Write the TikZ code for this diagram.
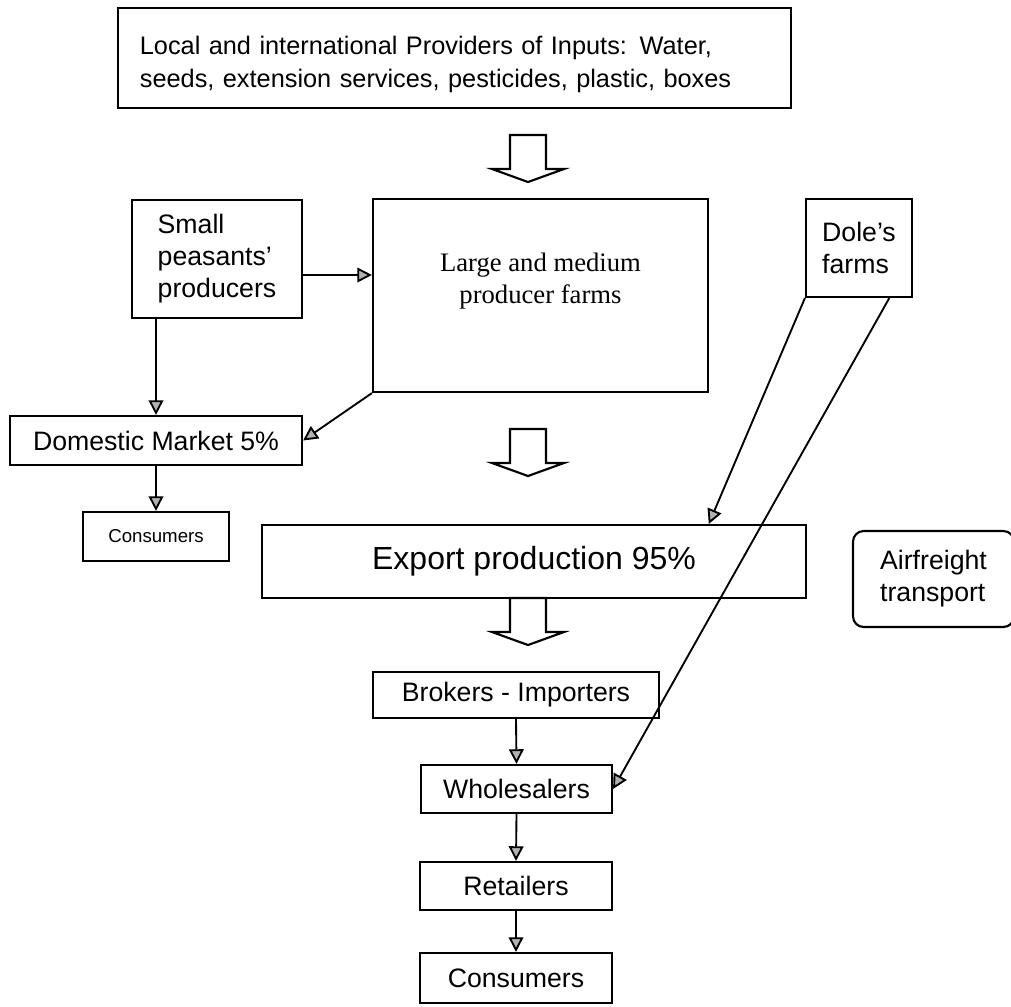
\documentclass[tikz,border=0pt]{standalone}
\usepackage{fontspec}
\setmainfont{Liberation Sans}
\newfontfamily\serifboxfont{Liberation Serif}
\usetikzlibrary{arrows.meta,calc}

\begin{document}
\begin{tikzpicture}[x=0.75pt,y=0.75pt,yscale=-1,xscale=1,
  box/.style={draw, line width=1.6pt, inner sep=0pt, align=center, font=\fontsize{20}{24}\selectfont},
  arr/.style={line width=1.4pt, -{Triangle[length=11pt,width=11pt,fill=gray!60]}},
  bigarrow/.style={draw, line width=1.6pt, fill=white}]
\useasboundingbox (0,0) rectangle (1011,1007);

% Text Node
\node[box, minimum width=504.75pt, minimum height=75pt, text width=472pt, align=left, text depth=19pt, font=\fontsize{19}{25}\selectfont] (inputs) at (454.5,58) {Local and international Providers of Inputs: Water,\\seeds, extension services, pesticides, plastic, boxes};
% Text Node
\node[box, minimum width=127.5pt, minimum height=88.5pt, align=left] (small) at (217,259) {Small\\peasants’\\producers};
% Text Node
\node[box, minimum width=251.25pt, minimum height=144.75pt, text depth=26pt, font=\serifboxfont\fontsize{20}{24}\selectfont] (large) at (540.5,295.5) {Large and medium\\producer farms};
% Text Node
\node[box, minimum width=79.5pt, minimum height=73.5pt, align=left] (dole) at (859,248) {Dole’s\\farms};
% Text Node
\node[box, minimum width=219pt, minimum height=36.75pt] (domestic) at (156,440.5) {Domestic Market 5\%};
% Text Node
\node[box, minimum width=109.5pt, minimum height=36.75pt, font=\fontsize{14}{16}\selectfont] (cons1) at (156,536.5) {Consumers};
% Text Node
\node[box, minimum width=408pt, minimum height=54.75pt, font=\fontsize{24}{28}\selectfont] (export) at (534,561.5) {Export production 95\%};
% Text Node
\node[box, minimum width=120.75pt, minimum height=72pt, rounded corners=8pt, align=left] (air) at (933.5,579) {Airfreight\\transport};
% Text Node
\node[box, minimum width=214.5pt, minimum height=34.5pt] (brokers) at (516,695) {Brokers - Importers};
% Text Node
\node[box, minimum width=143.25pt, minimum height=36pt] (whole) at (516.5,789) {Wholesalers};
% Text Node
\node[box, minimum width=144pt, minimum height=36pt] (retail) at (516,886) {Retailers};
% Text Node
\node[box, minimum width=144pt, minimum height=37.5pt] (cons2) at (516,978) {Consumers};

%Block Arrows
\foreach \x/\y in {528/135, 528/429, 528/598}
  \draw[bigarrow] (\x-18,\y) -- ++(36,0) -- ++(0,34) -- ++(18,0) -- (\x,\y+47) -- (\x-36,\y+34) -- ++(18,0) -- cycle;

%Straight Lines
\draw[arr] (small.east) ++(0,16) coordinate (sp) -- (sp -| large.west);
\draw[arr] (small.south -| domestic.north) -- (domestic.north);
\draw[arr] (large.south west) -- (domestic.east);
\draw[arr] (domestic.south) -- (cons1.north);
\draw[arr] (dole.south west) -- ($(export.north west)!0.82!(export.north east)$);
\draw[arr] ($(dole.south west)!0.78!(dole.south east)$) -- (whole.east);
\draw[arr] (brokers.south) -- (whole.north);
\draw[arr] (whole.south) -- (retail.north);
\draw[arr] (retail.south) -- (cons2.north);

\end{tikzpicture}
\end{document}
